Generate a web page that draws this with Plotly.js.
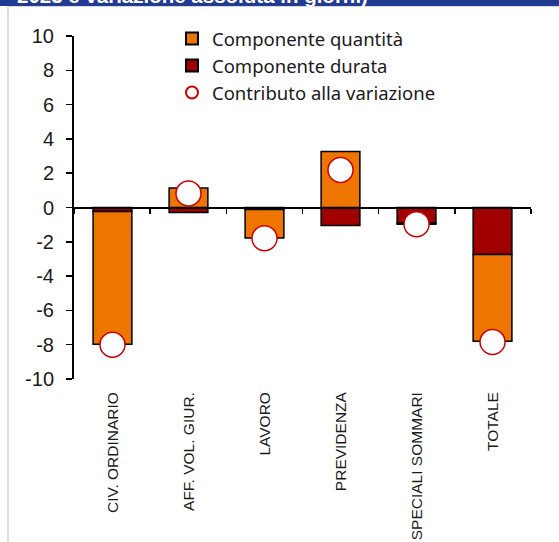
<!DOCTYPE html>
<html>
<head>
<meta charset="utf-8">
<script src="https://cdn.plot.ly/plotly-3.0.1.min.js"></script>
<style>html,body{margin:0;padding:0;background:#fff;}#chart{width:559px;height:542px;}</style>
</head>
<body>
<div id="chart"></div>
<script>
// Data
const categories = ["CIV. ORDINARIO", "AFF. VOL. GIUR.", "LAVORO", "PREVIDENZA", "SPECIALI SOMMARI", "TOTALE"];
const componenteDurata = [-0.23, -0.29, -0.12, -1.05, -0.92, -2.74];
const componenteQuantita = [-7.74, 1.14, -1.66, 3.26, -0.05, -5.06];
const contributoVariazione = [-8.0, 0.82, -1.79, 2.19, -0.97, -7.84];
const yTicks = [-10, -8, -6, -4, -2, 0, 2, 4, 6, 8, 10];
const yTickText = ["-10", "-8", "-6", "-4", "-2", "0", "2", "4", "6", "8", "10"];
const seriesNames = ["Componente quantità", "Componente durata", "Contributo alla variazione"];
const bannerText = "2023 e variazione assoluta in giorni)";

const traces = [
  {
    type: "bar", name: seriesNames[1], x: categories, y: componenteDurata,
    marker: {color: "#A00000", line: {color: "#000000", width: 1.5}},
    legendrank: 2
  },
  {
    type: "bar", name: seriesNames[0], x: categories, y: componenteQuantita,
    marker: {color: "#EE7500", line: {color: "#000000", width: 1.5}},
    legendrank: 1
  },
  {
    type: "scatter", mode: "markers", name: seriesNames[2], x: categories, y: contributoVariazione,
    marker: {symbol: "circle", size: 25, color: "#FFFFFF", line: {color: "#CC0000", width: 1.5}},
    legendrank: 3
  },
  {
    type: "scatter", x: [], y: [], xaxis: "x2", yaxis: "y", showlegend: false, hoverinfo: "skip"
  }
];

const layout = {
  width: 559, height: 542,
  margin: {l: 74, r: 28, t: 36, b: 163},
  paper_bgcolor: "#FFFFFF", plot_bgcolor: "rgba(0,0,0,0)",
  barmode: "relative", bargap: 0.49,
  showlegend: true,
  legend: {
    x: 0.2144, y: 1.047, xanchor: "left", yanchor: "top",
    bgcolor: "rgba(0,0,0,0)", traceorder: "normal",
    font: {family: "Noto Sans", size: 18.5, color: "#1a1a1a"},
    itemsizing: "constant", itemwidth: 30, tracegroupgap: 0
  },
  xaxis: {
    type: "category", categoryorder: "array", categoryarray: categories,
    showline: false, ticks: "", showgrid: false, zeroline: false,
    tickangle: -90, ticklabelstandoff: 9,
    tickfont: {family: "Liberation Sans", size: 15.5, color: "#1a1a1a"}
  },
  xaxis2: {
    type: "linear", overlaying: "x", anchor: "free", position: 0.5,
    range: [-0.5, 5.5], tick0: -0.5, dtick: 1,
    showline: true, linecolor: "#000000", linewidth: 2,
    ticks: "outside", ticklen: 5, tickwidth: 1.5, tickcolor: "#000000",
    showticklabels: false, showgrid: false, zeroline: false
  },
  yaxis: {
    range: [-10, 10], tickmode: "array", tickvals: yTicks, ticktext: yTickText,
    showline: true, linecolor: "#000000", linewidth: 2,
    ticks: "outside", ticklen: 6, tickwidth: 1.5, tickcolor: "#000000",
    showgrid: false, zeroline: false, ticklabelstandoff: 8,
    tickfont: {family: "Liberation Sans", size: 20, color: "#1a1a1a"}
  },
  shapes: [
    {type: "rect", xref: "paper", yref: "paper", x0: -0.17, x1: 1.07, y0: 1.0875, y1: 1.11,
     fillcolor: "#213A92", line: {width: 0}, layer: "below"},
    {type: "line", xref: "paper", yref: "paper", x0: -0.1444, x1: 1.07, y0: 1.086, y1: 1.086,
     line: {color: "#D9D9D9", width: 1}},
    {type: "line", xref: "paper", yref: "paper", x0: -0.1444, x1: -0.1444, y0: 1.086, y1: -0.48,
     line: {color: "#DDDDDD", width: 2}}
  ],
  annotations: [
    {text: "<b>" + bannerText + "</b>", xref: "paper", yref: "paper",
     x: -0.129, y: 1.0787, xanchor: "left", yanchor: "bottom", showarrow: false,
     font: {family: "Liberation Sans", size: 20.5, color: "#FFFFFF"}}
  ]
};

Plotly.newPlot("chart", traces, layout, {displayModeBar: false, staticPlot: true});
</script>
</body>
</html>
